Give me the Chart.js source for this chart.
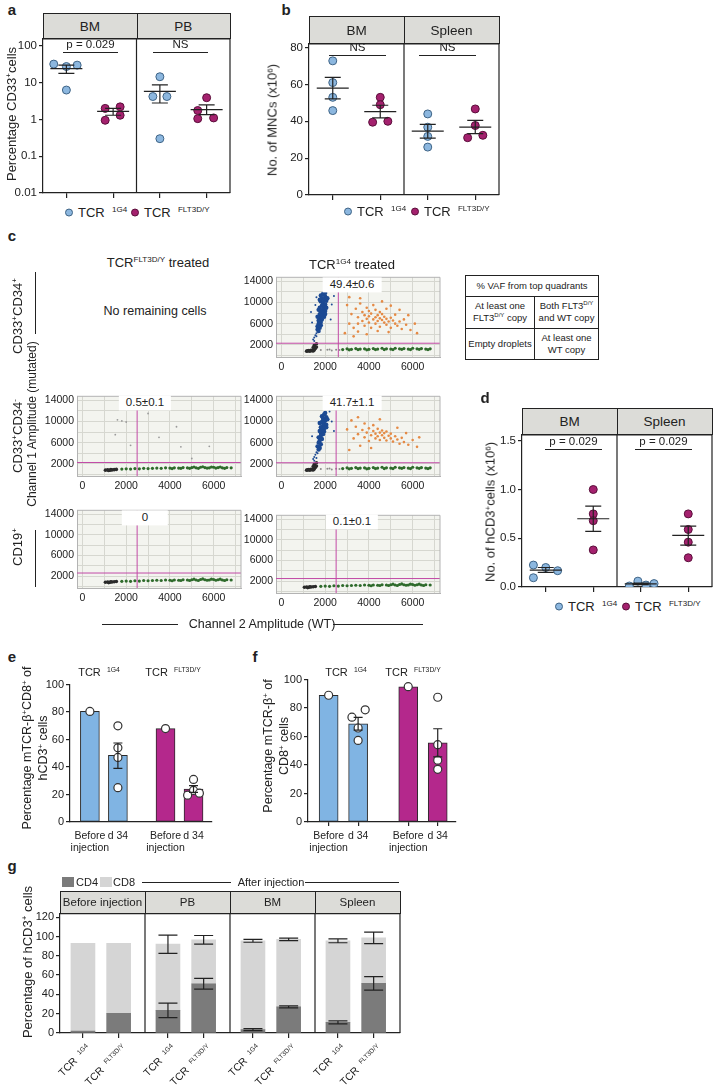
<!DOCTYPE html>
<html>
<head>
<meta charset="utf-8">
<title>Figure</title>
<script src="https://cdn.jsdelivr.net/npm/chart.js@4.4.1/dist/chart.umd.min.js"></script>
<style>
  body { margin: 0; background: #fff; }
  #page { position: relative; width: 713px; height: 1086px; overflow: hidden; font-family: "Liberation Sans", Arial, sans-serif; color: #222; }
  .t { position: absolute; white-space: nowrap; line-height: 1.15; }
  .t sup { font-size: 0.62em; vertical-align: 0.55em; line-height: 0; }
  .r { position: absolute; background: #222; }
  .hd { position: absolute; background: #dcdcd8; border: 1px solid #222; box-sizing: border-box; }
  .dot { display: inline-block; width: 8px; height: 8px; border-radius: 50%; margin-right: 5px; vertical-align: 0; box-sizing: border-box; border: 1px solid; }
  table.q { position: absolute; border-collapse: collapse; font-size: 9.5px; text-align: center; line-height: 1.25; }
  table.q td { border: 1px solid #222; padding: 0 2px; }
  canvas { position: absolute; }
</style>
</head>
<body>
<div id="page"></div>
<script>
// colours
const INK = '#222';
const BLUE = '#8cb7df', BLUE_D = '#3e6385';
const MAG = '#a4216e', MAG_D = '#5a0e3a';
const BLUEBAR = '#80b4e3', MAGBAR = '#b4288c';

// ---- a: % CD33+ cells (log), groups BM-1G4, BM-FLT3, PB-1G4, PB-FLT3
const dotCats = [1, 2, 3, 4];
const aVals = [[32, 27.5, 30, 6.3], [2.0, 2.2, 0.95, 1.3], [14.5, 4.2, 4.2, 0.3], [3.9, 1.75, 1.05, 1.1]];
const aJit = [[-0.27, 0, 0.23, 0], [-0.17, 0.15, -0.17, 0.15], [0, -0.15, 0.15, 0], [0, -0.19, -0.19, 0.15]];
const aMean = [24, 1.65, 5.8, 1.86];
const aLo = [18, 1.3, 2.8, 1.35];
const aHi = [30, 2.0, 8.7, 2.5];
const aTicks = [0.01, 0.1, 1, 10, 100];
const aTickLbl = ['0.01', '0.1', '1', '10', '100'];

// ---- b: No. of MNCs (x10^6), groups BM-1G4, BM-FLT3, Spleen-1G4, Spleen-FLT3
const bVals = [[72.8, 61, 53, 45.8], [53, 49, 39.5, 40], [44, 36.8, 31.8, 26], [46.7, 37.7, 31.1, 32.4]];
const bJit = [[0, 0, 0, 0], [0, 0, -0.16, 0.16], [0, 0, 0, 0], [0, 0, -0.16, 0.16]];
const bMean = [58, 45.3, 34.7, 36.8];
const bLo = [52.2, 41.9, 30.9, 33.3];
const bHi = [63.8, 48.7, 38.3, 40.5];
const bTicks = [0, 20, 40, 60, 80];

// ---- d: No. of hCD3+ cells (x10^6)
const dVals = [[0.225, 0.2, 0.167, 0.095], [1.0, 0.75, 0.68, 0.38], [0.01, 0.06, 0.02, 0.035], [0.75, 0.59, 0.46, 0.30]];
const dJit = [[-0.26, 0, 0.25, -0.26], [0, 0, 0, 0], [-0.24, -0.06, 0.11, 0.28], [0, 0, 0, 0]];
const dMean = [0.173, 0.70, 0.033, 0.53];
const dLo = [0.15, 0.57, 0.025, 0.43];
const dHi = [0.2, 0.83, 0.04, 0.625];
const dTicks = [0, 0.5, 1, 1.5];
const dTickLbl = ['0.0', '0.5', '1.0', '1.5'];

// ---- e / f: bars (1G4 before, 1G4 d34, FLT3 before, FLT3 d34)
const barPos = [1, 2, 3.7, 4.7];
const barLbl = [['Before', 'injection'], ['d 34'], ['Before', 'injection'], ['d 34']];
const barCol = [BLUEBAR, BLUEBAR, MAGBAR, MAGBAR];
const pctTicks = [0, 20, 40, 60, 80, 100];
const eBar = [80.5, 48.5, 68, 24];
const ePts = [[80.5], [70, 54, 47, 25], [68], [31, 23, 19.5, 21]];
const eJit = [[0], [0, 0, 0, 0], [0], [0, 0, -0.21, 0.21]];
const eLo = [null, 39, null, 21.5];
const eHi = [null, 57.5, null, 26.5];
const fBar = [89, 69, 95, 55.6];
const fPts = [[89], [73.6, 78.8, 66, 57.3], [95], [87.6, 54.3, 43.4, 37]];
const fJit = [[0], [-0.21, 0.24, 0, 0], [0], [0, 0, 0, 0]];
const fLo = [null, 64.5, null, 45.7];
const fHi = [null, 73.5, null, 65.5];

// ---- g: CD4 / CD8 stacked
const gGroups = ['Before injection', 'PB', 'BM', 'Spleen'];
const gPos = [0.27, 0.69, 1.27, 1.69, 2.27, 2.69, 3.27, 3.69];
const gTcr = ['1G4', 'FLT3D/Y', '1G4', 'FLT3D/Y', '1G4', 'FLT3D/Y', '1G4', 'FLT3D/Y'];
const gCD4 = [2, 20.5, 23.5, 51, 3.5, 27, 11, 51.5];
const gCD8 = [91, 72.5, 68.5, 45.5, 92, 70, 84.5, 47];
const gCD4Err = [0, 0, 7.5, 5.5, 1, 1, 1.5, 7];
const gTotErr = [0, 0, 9.5, 4.5, 1.5, 1.2, 2, 6];
const gTicks = [0, 20, 40, 60, 80, 100, 120];

// ---- c: ddPCR droplets [channel 2 (WT), channel 1 (mutated)]
const ddX = [0, 1000, 2000, 3000, 4000, 5000, 6000, 7000];
const ddXLbl = [0, 2000, 4000, 6000];
const ddY = [0, 2000, 4000, 6000, 8000, 10000, 12000, 14000];
const ddYLbl = [2000, 6000, 10000, 14000];
const blueCore1 = [[1800,11300],[1900,11600],[2000,11100],[1850,10800],[1950,10500],[2050,10300],[1800,10200],[1900,9900],[2000,9600],[1850,9400],[1950,9100],[1750,9000],[1900,8700],[2000,8400],[1800,8300],[1900,8000],[1750,7800],[1850,7500],[1950,7300],[1750,7100],[1850,6800],[1700,6600],[1800,6300],[1700,6000],[1800,5700],[1650,5500],[1750,5200],[1650,4900],[1700,4600],[2050,9000],[2100,10800],[1700,8600],[1750,10500],[2000,7800],[2000,11800],[1650,7300]];
const blueSparse1 = [[1600,4200],[1550,3800],[1500,3400],[1600,3600],[1450,3000],[1500,2700],[2300,9600],[2250,6800],[1400,6200],[2400,11200],[1350,8200],[2200,12300],[1550,9500],[1600,11000]];
const orange1 = [[3000,9500],[3200,7800],[3100,6000],[3300,5200],[3400,8800],[3500,7200],[3500,4500],[3600,9800],[3700,6500],[3700,8200],[3800,5600],[3800,7600],[3900,9000],[3900,6900],[4000,7400],[4000,6200],[4000,8400],[4100,5200],[4100,7900],[4200,6800],[4200,9500],[4300,7200],[4300,6000],[4300,8600],[4400,7600],[4400,6500],[4500,7000],[4500,5400],[4500,8200],[4600,6700],[4600,7800],[4700,6200],[4700,7300],[4800,5800],[4800,6900],[4800,8800],[4900,6400],[5000,7100],[5000,5200],[5100,6600],[5200,6000],[5200,7700],[5300,5600],[5400,6400],[5500,5000],[5600,6800],[5700,5800],[5900,4800],[6100,6000],[6200,4200],[3600,10800],[4600,10200],[5000,9400],[2900,4200],[3300,3600],[5400,8600],[3100,11000],[4400,4600],[3900,4000],[5800,7600],[4900,4400],[3500,6000]];
const blueCore3 = [[1850,11000],[1950,11300],[2050,10800],[1900,10500],[2000,10200],[1850,9900],[1950,9600],[2050,9400],[1900,9200],[1800,8900],[1950,8700],[1850,8400],[1950,8100],[1800,7900],[1900,7600],[1800,7300],[1700,7000],[1850,6700],[1750,6400],[1700,6000],[1800,5700],[1650,5300],[1750,5000],[1700,4700],[2050,8900],[2100,10400],[1750,9700],[2000,11600],[1750,8200]];
const blueSparse3 = [[1600,4200],[1550,3700],[1500,3300],[1450,2900],[1500,2600],[1600,3100],[1650,4000],[2300,10000],[2400,8200],[1400,7200],[2200,11900]];
const orange3 = [[3000,8500],[3200,10200],[3300,6800],[3400,9000],[3500,7600],[3600,5400],[3700,8400],[3800,9600],[3800,7000],[3900,7900],[4000,8700],[4000,6300],[4100,7400],[4200,8200],[4200,9300],[4300,6800],[4300,7700],[4400,8600],[4400,7200],[4500,7900],[4500,6500],[4600,8300],[4600,7400],[4700,6900],[4700,7800],[4800,8100],[4800,6400],[4900,7300],[5000,6800],[5000,7700],[5100,6200],[5200,7200],[5300,6600],[5400,5800],[5500,6900],[5600,6100],[5800,5600],[6000,6500],[6200,5200],[3500,10800],[4500,10400],[5300,8800],[3100,4600],[4100,5000],[5700,7800],[6300,7000]];
const greenA = [[2800,1100],[3000,1250],[3200,1150],[3400,1300],[3600,1200],[3800,1250],[4000,1150],[4200,1300],[4400,1200],[4600,1350],[4800,1250],[5000,1200],[5200,1350],[5400,1250],[5600,1300],[5800,1200],[6000,1350],[6200,1250],[6400,1300],[6600,1200],[6800,1250],[3100,1050],[3500,1100],[3900,1050],[4300,1100],[4700,1100],[5100,1100],[5500,1150],[5900,1100],[6300,1150],[6700,1100]];
const greenB = [[1800,1000],[2000,1050],[2200,1000],[2400,1100],[2600,1050],[2800,1150],[3000,1100],[3200,1150],[3400,1200],[3600,1150],[3800,1250],[4000,1200],[4200,1250],[4400,1200],[4600,1300],[4800,1250],[5000,1300],[5200,1250],[5400,1350],[5600,1300],[5800,1250],[6000,1350],[6200,1300],[6400,1250],[6600,1300],[6800,1250],[4100,1100],[4500,1150],[4900,1150],[5300,1150],[5700,1200],[6100,1200],[6500,1150],[5100,1400],[5500,1450],[5900,1400],[6300,1400]];
const blackA = [[1200,850],[1300,800],[1400,900],[1350,950],[1250,900],[1450,850],[1500,1000],[1550,1300],[1600,1600],[1500,1900],[1450,1500],[1600,2200],[1150,800]];
const blackB = [[1050,800],[1150,850],[1250,800],[1350,850],[1450,900],[1200,750],[1550,950],[1300,900]];
const rainA = [[1800,1000],[2100,1050],[2300,950],[2500,1050],[2650,1000],[2200,1100]];
const rainB = [[1600,10300],[1800,10100],[2000,9900],[1500,7500],[2200,5500],[3500,7000],[4300,9000],[4500,5200],[5800,5300],[3000,11500],[5000,3000]];

const page = document.getElementById('page');
Chart.defaults.font.family = '"Liberation Sans", Arial, sans-serif';
Chart.defaults.color = INK;
Chart.defaults.plugins.legend.display = false;
Chart.defaults.plugins.tooltip.enabled = false;

// place a chart so its plot area lands on (x0,y0)-(x1,y1)
function chartAt(x0, y0, x1, y1, m, cfg) {
  const cv = document.createElement('canvas');
  const W = x1 - x0 + m.l + m.r, H = y1 - y0 + m.t + m.b;
  cv.width = W; cv.height = H;
  cv.style.cssText = `left:${x0 - m.l}px;top:${y0 - m.t}px;width:${W}px;height:${H}px`;
  page.appendChild(cv);
  cfg.options.responsive = false;
  cfg.options.animation = false;
  cfg.options.layout = { autoPadding: false, padding: { top: m.t, right: m.r, left: 0, bottom: 0 } };
  cfg.options.scales.x.afterFit = s => { s.height = m.b; };
  cfg.options.scales.y.afterFit = s => { s.width = m.l; };
  return new Chart(cv, cfg);
}

function whiskers(list, cap, means, half) {
  return {
    id: 'whiskers',
    afterDatasetsDraw(chart) {
      const { ctx, scales: { x, y } } = chart;
      ctx.save();
      ctx.strokeStyle = INK; ctx.lineWidth = 1.2;
      ctx.beginPath();
      list.forEach(e => {
        if (e.lo == null) return;
        const cx = x.getPixelForValue(e.x), yl = y.getPixelForValue(e.lo), yh = y.getPixelForValue(e.hi);
        ctx.moveTo(cx, yl); ctx.lineTo(cx, yh);
        ctx.moveTo(cx - cap, yl); ctx.lineTo(cx + cap, yl);
        ctx.moveTo(cx - cap, yh); ctx.lineTo(cx + cap, yh);
      });
      (means || []).forEach(e => {
        const cx = x.getPixelForValue(e.x), py = y.getPixelForValue(e.y);
        ctx.moveTo(cx - half, py); ctx.lineTo(cx + half, py);
      });
      ctx.stroke();
      ctx.restore();
    }
  };
}

function boxFrame(divs, color, lw) {
  return {
    id: 'boxFrame',
    afterDraw(chart) {
      const { ctx, chartArea: c, scales: { x } } = chart;
      ctx.save();
      ctx.strokeStyle = color; ctx.lineWidth = lw;
      ctx.beginPath();
      ctx.moveTo(c.left, c.top); ctx.lineTo(c.right, c.top); ctx.lineTo(c.right, c.bottom);
      divs.forEach(v => { const px = x.getPixelForValue(v); ctx.moveTo(px, c.top); ctx.lineTo(px, c.bottom); });
      ctx.stroke();
      ctx.restore();
    }
  };
}

function ddLayer(tx, ty) {
  return {
    id: 'ddLayer',
    beforeDraw(chart) {
      const { ctx, chartArea: c } = chart;
      ctx.save(); ctx.fillStyle = '#f3f4ef';
      ctx.fillRect(c.left, c.top, c.right - c.left, c.bottom - c.top);
      ctx.restore();
    },
    afterDatasetsDraw(chart) {
      const { ctx, chartArea: c, scales: { x, y } } = chart;
      const px = x.getPixelForValue(tx), py = y.getPixelForValue(ty);
      ctx.save(); ctx.strokeStyle = '#c24aa6'; ctx.lineWidth = 1;
      ctx.beginPath();
      ctx.moveTo(px, c.top); ctx.lineTo(px, c.bottom);
      ctx.moveTo(c.left, py); ctx.lineTo(c.right, py);
      ctx.stroke(); ctx.restore();
    }
  };
}

const axisLine = { color: INK, width: 1.2 };
const tickGrid = len => ({ drawOnChartArea: false, tickLength: len, color: INK, lineWidth: 1.2 });

function dotChart(area, vals, jit, mean, lo, hi, y) {
  const blue = [], mag = [];
  vals.forEach((g, i) => g.forEach((v, k) => (i % 2 ? mag : blue).push({ x: dotCats[i] + jit[i][k], y: v })));
  return chartAt(area[0], area[1], area[2], area[3], { l: 40, t: 8, r: 3, b: 9 }, {
    type: 'scatter',
    data: {
      datasets: [
        { data: blue, backgroundColor: BLUE, borderColor: BLUE_D, borderWidth: 1, pointRadius: 4 },
        { data: mag, backgroundColor: MAG, borderColor: MAG_D, borderWidth: 1, pointRadius: 4 }
      ]
    },
    options: {
      scales: {
        x: {
          type: 'linear', min: 0.5, max: 4.5,
          afterBuildTicks: s => { s.ticks = dotCats.map(v => ({ value: v })); },
          ticks: { callback: () => '' },
          grid: tickGrid(5), border: axisLine
        },
        y: Object.assign({ grid: tickGrid(4), border: axisLine }, y)
      }
    },
    plugins: [
      whiskers(mean.map((m, i) => ({ x: dotCats[i], lo: lo[i], hi: hi[i] })), 8,
               mean.map((m, i) => ({ x: dotCats[i], y: m })), 16),
      boxFrame([2.5], INK, 1.2)
    ]
  });
}

function barChart(area, bars, pts, jit, lo, hi, tickLen) {
  const dots = [];
  pts.forEach((g, i) => g.forEach((v, k) => dots.push({ x: barPos[i] + jit[i][k], y: v })));
  return chartAt(area[0], area[1], area[2], area[3], { l: 32, t: 8, r: 4, b: 34 }, {
    type: 'bar',
    data: {
      datasets: [
        { type: 'scatter', data: dots, backgroundColor: '#fff', borderColor: '#333', borderWidth: 1.2, pointRadius: 4, order: 1 },
        { data: barPos.map((x, i) => ({ x, y: bars[i] })), backgroundColor: barCol, borderColor: '#2a2a2a', borderWidth: 1, borderSkipped: false, barThickness: 19, order: 2 }
      ]
    },
    options: {
      scales: {
        x: {
          type: 'linear', min: area[4], max: area[5], offset: false,
          afterBuildTicks: s => { s.ticks = barPos.map(v => ({ value: v })); },
          ticks: { callback: () => '' },
          grid: Object.assign(tickGrid(tickLen), { offset: false, drawTicks: tickLen > 0 }), border: axisLine
        },
        y: {
          min: 0, max: 100,
          afterBuildTicks: s => { s.ticks = pctTicks.map(v => ({ value: v })); },
          ticks: { font: { size: 11 }, padding: 2 },
          grid: tickGrid(4), border: axisLine
        }
      }
    },
    plugins: [whiskers(barPos.map((x, i) => ({ x, lo: lo[i], hi: hi[i] })), 4.5)]
  });
}

function ddChart(area, sets, tx, ty) {
  return chartAt(area[0], area[1], area[2], area[3], { l: 34, t: 6, r: 2, b: 17 }, {
    type: 'scatter',
    data: {
      datasets: sets.map(s => ({ data: s[0].map(p => ({ x: p[0], y: p[1] })), backgroundColor: s[1], borderWidth: 0, pointRadius: s[2] }))
    },
    options: {
      scales: {
        x: {
          type: 'linear', min: -250, max: 7250,
          afterBuildTicks: s => { s.ticks = ddX.map(v => ({ value: v })); },
          ticks: { autoSkip: false, maxRotation: 0, padding: 4, font: { size: 10.5 }, callback: v => ddXLbl.includes(v) ? String(v) : '' },
          grid: { color: '#d6d7d0', drawTicks: false }, border: { color: '#b3b3b3' }
        },
        y: {
          type: 'linear', min: -300, max: 14750,
          afterBuildTicks: s => { s.ticks = ddY.map(v => ({ value: v })); },
          ticks: { autoSkip: false, padding: 3, font: { size: 10.5 }, callback: v => ddYLbl.includes(v) ? String(v) : '' },
          grid: { color: '#d6d7d0', drawTicks: false }, border: { color: '#b3b3b3' }
        }
      }
    },
    plugins: [ddLayer(tx, ty), boxFrame([], '#b3b3b3', 1)]
  });
}

// ---------- charts ----------
dotChart([43, 38, 230, 193], aVals, aJit, aMean, aLo, aHi, {
  type: 'logarithmic', min: 0.01, max: 155,
  afterBuildTicks: s => { s.ticks = aTicks.map(v => ({ value: v })); },
  ticks: { callback: (v, i) => aTickLbl[i], font: { size: 11.5 }, padding: 2 }
});
dotChart([309, 43, 499, 195], bVals, bJit, bMean, bLo, bHi, {
  type: 'linear', min: 0, max: 82,
  afterBuildTicks: s => { s.ticks = bTicks.map(v => ({ value: v })); },
  ticks: { font: { size: 11.5 }, padding: 2 }
});
dotChart([522, 434, 712, 587], dVals, dJit, dMean, dLo, dHi, {
  type: 'linear', min: 0, max: 1.56,
  afterBuildTicks: s => { s.ticks = dTicks.map(v => ({ value: v })); },
  ticks: { callback: (v, i) => dTickLbl[i], font: { size: 11.5 }, padding: 2 }
});

ddChart([276, 274, 440, 357], [[greenA, '#2f6b2c', 1.6], [rainA, '#8a8a8a', 1], [blackA, '#2a2a2a', 1.8], [orange1, '#e58a45', 1.3], [blueSparse1, '#1c4a93', 1], [blueCore1, '#1c4a93', 2.2]], 2600, 2300);
ddChart([77, 393, 241, 476], [[greenB, '#2f6b2c', 1.6], [blackB, '#2a2a2a', 1.8], [rainB, '#9a9a9a', 0.9]], 2500, 2250);
ddChart([276, 393, 440, 476], [[greenA, '#2f6b2c', 1.6], [rainA, '#8a8a8a', 1], [blackA, '#2a2a2a', 1.8], [orange3, '#e58a45', 1.3], [blueSparse3, '#1c4a93', 1], [blueCore3, '#1c4a93', 2.2]], 2500, 2200);
ddChart([77, 507, 241, 588], [[greenB, '#2f6b2c', 1.6], [blackB, '#2a2a2a', 1.8]], 2500, 2600);
ddChart([276, 512, 440, 593], [[greenB, '#2f6b2c', 1.6], [blackB, '#2a2a2a', 1.8]], 2500, 2500);

const eChart = barChart([70, 684, 212, 822, 0.29, 5.36], eBar, ePts, eJit, eLo, eHi, 0);
const fChart = barChart([308, 679, 456, 822, 0.3, 5.32], fBar, fPts, fJit, fLo, fHi, 4);

const gWhisk = [];
gPos.forEach((x, i) => {
  if (gCD4Err[i]) gWhisk.push({ x, lo: gCD4[i] - gCD4Err[i], hi: gCD4[i] + gCD4Err[i] });
  const tot = gCD4[i] + gCD8[i];
  if (gTotErr[i]) gWhisk.push({ x, lo: tot - gTotErr[i], hi: tot + gTotErr[i] });
});
const gChart = chartAt(60, 913, 400, 1033, { l: 32, t: 8, r: 4, b: 10 }, {
  type: 'bar',
  data: {
    datasets: [
      { label: 'CD4', data: gPos.map((x, i) => ({ x, y: gCD4[i] })), backgroundColor: '#7b7b7b', barThickness: 24 },
      { label: 'CD8', data: gPos.map((x, i) => ({ x, y: gCD8[i] })), backgroundColor: '#d5d5d5', barThickness: 24 }
    ]
  },
  options: {
    scales: {
      x: {
        type: 'linear', min: 0, max: 4, stacked: true, offset: false,
        afterBuildTicks: s => { s.ticks = gPos.map(v => ({ value: v })); },
        ticks: { callback: () => '' },
        grid: Object.assign(tickGrid(5), { offset: false }), border: axisLine
      },
      y: {
        min: 0, max: 123.7, stacked: true,
        afterBuildTicks: s => { s.ticks = gTicks.map(v => ({ value: v })); },
        ticks: { font: { size: 11 }, padding: 2 },
        grid: tickGrid(4), border: axisLine
      }
    }
  },
  plugins: [whiskers(gWhisk, 9.5), boxFrame([1, 2, 3], INK, 1.2)]
});

// ---------- text & decorations ----------
function put(html, x, y, o = {}) {
  const d = document.createElement('div');
  d.className = 't';
  d.innerHTML = html;
  d.style.left = x + 'px';
  d.style.top = y + 'px';
  d.style.fontSize = (o.size || 12) + 'px';
  if (o.bold) d.style.fontWeight = 'bold';
  if (o.bg) { d.style.background = o.bg; d.style.padding = o.pad || '1px 7px'; }
  let tx = '-50%';
  if (o.anchor === 'left') { tx = '0'; d.style.transformOrigin = '0 50%'; }
  if (o.anchor === 'right') { tx = '-100%'; d.style.transformOrigin = '100% 50%'; }
  d.style.transform = `translate(${tx},-50%)` + (o.rot ? ` rotate(${o.rot}deg)` : '');
  page.appendChild(d);
  return d;
}
function rule(x0, y0, x1, y1) {
  const d = document.createElement('div');
  d.className = 'r';
  d.style.left = x0 + 'px'; d.style.top = y0 + 'px';
  d.style.width = Math.max(x1 - x0, 1) + 'px'; d.style.height = Math.max(y1 - y0, 1) + 'px';
  page.appendChild(d);
}
function header(x0, y0, x1, y1, labels, size) {
  const d = document.createElement('div');
  d.className = 'hd';
  d.style.left = x0 + 'px'; d.style.top = y0 + 'px';
  d.style.width = (x1 - x0 + 1) + 'px'; d.style.height = (y1 - y0 + 1) + 'px';
  page.appendChild(d);
  const w = (x1 - x0) / labels.length;
  labels.forEach((l, i) => {
    if (i) rule(Math.round(x0 + i * w), y0, Math.round(x0 + i * w) + 1, y1);
    put(l, x0 + (i + 0.5) * w, (y0 + y1) / 2 + 1, { size });
  });
}
function sig(txt, x0, x1, y) {
  rule(x0, y, x1, y + 1);
  put(txt, (x0 + x1) / 2, y - 7, { size: 11.5 });
}
function legend(x1, x2, y) {
  put(`<span class="dot" style="background:${BLUE};border-color:${BLUE_D}"></span>TCR &nbsp;<sup>1G4</sup>`, x1, y, { anchor: 'left', size: 13 });
  put(`<span class="dot" style="background:${MAG};border-color:${MAG_D}"></span>TCR &nbsp;<sup>FLT3D/Y</sup>`, x2, y, { anchor: 'left', size: 13 });
}
function barLabels(chart) {
  const off = parseFloat(chart.canvas.style.left);
  barPos.forEach((v, i) => {
    const px = off + chart.scales.x.getPixelForValue(v);
    barLbl[i].forEach((line, k) => put(line, px, 835 + k * 11.5, { size: 10.5 }));
  });
}

// panel letters
[['a', 12, 10], ['b', 286, 10], ['c', 12, 236], ['d', 485, 398], ['e', 12, 657], ['f', 255, 657], ['g', 12, 866]]
  .forEach(([l, x, y]) => put(l, x, y, { size: 15, bold: true }));

// a
header(43, 13, 230, 38, ['BM', 'PB'], 13.5);
sig('p = 0.029', 63, 118, 52);
sig('NS', 153, 208, 52);
put('Percentage CD33<sup>+</sup>cells', 12, 114, { rot: -90, size: 13 });
legend(65, 131, 213);

// b
header(309, 16, 499, 43, ['BM', 'Spleen'], 13.5);
sig('NS', 329, 386, 55);
sig('NS', 419, 476, 55);
put('No. of MNCs (x10<sup>6</sup>)', 273, 120, { rot: -90, size: 13 });
legend(344, 411, 212);

// c
put('TCR<sup>FLT3D/Y</sup> treated', 158, 263, { size: 13 });
put('TCR<sup>1G4</sup> treated', 352, 265, { size: 13 });
put('No remaining cells', 155, 311, { size: 12.5 });
put('CD33<sup>+</sup>CD34<sup>+</sup>', 18, 316, { rot: -90, size: 13 });
rule(35, 272, 36, 334);
put('CD33<sup>+</sup>CD34<sup>-</sup>', 18, 436, { rot: -90, size: 13 });
put('Channel 1 Amplitude (mutated)', 33, 424, { rot: -90, size: 12 });
put('CD19<sup>+</sup>', 18, 547, { rot: -90, size: 13 });
rule(35, 530, 36, 587);
put('Channel 2 Amplitude (WT)', 262, 624, { size: 12.5 });
rule(102, 624, 178, 625);
rule(333, 624, 423, 625);
put('49.4±0.6', 352, 285, { size: 11.5, bg: '#fff' });
put('0.5±0.1', 145, 403, { size: 11.5, bg: '#fff' });
put('41.7±1.1', 352, 403, { size: 11.5, bg: '#fff' });
put('0', 145, 518, { size: 11.5, bg: '#fff', pad: '1px 20px' });
put('0.1±0.1', 352, 522, { size: 11.5, bg: '#fff' });
const tbl = document.createElement('table');
tbl.className = 'q';
tbl.style.cssText = 'left:465px;top:275px;width:134px;height:85px';
tbl.innerHTML =
  '<tr style="height:21px"><td colspan="2">% VAF from top quadrants</td></tr>' +
  '<tr><td style="width:64px">At least one<br>FLT3<sup style="font-size:6px">D/Y</sup> copy</td><td>Both FLT3<sup style="font-size:6px">D/Y</sup><br>and WT copy</td></tr>' +
  '<tr><td>Empty droplets</td><td>At least one<br>WT copy</td></tr>';
page.appendChild(tbl);

// d
header(522, 408, 712, 434, ['BM', 'Spleen'], 13.5);
sig('p = 0.029', 545, 602, 449);
sig('p = 0.029', 635, 692, 449);
put('No. of hCD3<sup>+</sup>cells (x10<sup>6</sup>)', 491, 512, { rot: -90, size: 13 });
legend(555, 622, 607);

// e
put('TCR &nbsp;<sup>1G4</sup>', 99, 672, { size: 11 });
put('TCR &nbsp;<sup>FLT3D/Y</sup>', 173, 672, { size: 11 });
put('Percentage mTCR-β<sup>+</sup>CD8<sup>+</sup> of', 27, 748, { rot: -90, size: 12.5 });
put('hCD3<sup>+</sup> cells', 43, 748, { rot: -90, size: 12.5 });
barLabels(eChart);

// f
put('TCR &nbsp;<sup>1G4</sup>', 346, 672, { size: 11 });
put('TCR &nbsp;<sup>FLT3D/Y</sup>', 413, 672, { size: 11 });
put('Percentage mTCR-β<sup>+</sup> of', 268, 746, { rot: -90, size: 12.5 });
put('CD8<sup>+</sup> cells', 284, 746, { rot: -90, size: 12.5 });
barLabels(fChart);

// g
const sw = (x, c) => { const d = document.createElement('div'); d.style.cssText = `position:absolute;left:${x}px;top:877px;width:12px;height:10px;background:${c}`; page.appendChild(d); };
sw(62, '#7b7b7b'); put('CD4', 76, 882, { anchor: 'left', size: 11 });
sw(100, '#d5d5d5'); put('CD8', 113, 882, { anchor: 'left', size: 11 });
rule(142, 882, 231, 883);
put('After injection', 271, 882, { size: 11 });
rule(305, 882, 399, 883);
header(60, 891, 400, 913, gGroups, 11.5);
put('Percentage of hCD3<sup>+</sup> cells', 28, 962, { rot: -90, size: 13 });
const gOff = parseFloat(gChart.canvas.style.left);
gPos.forEach((v, i) => {
  const px = gOff + gChart.scales.x.getPixelForValue(v);
  put(`TCR &nbsp;<sup>${gTcr[i]}</sup>`, px + 5, 1046, { anchor: 'right', rot: -45, size: 10.5 });
});
</script>
</body>
</html>
